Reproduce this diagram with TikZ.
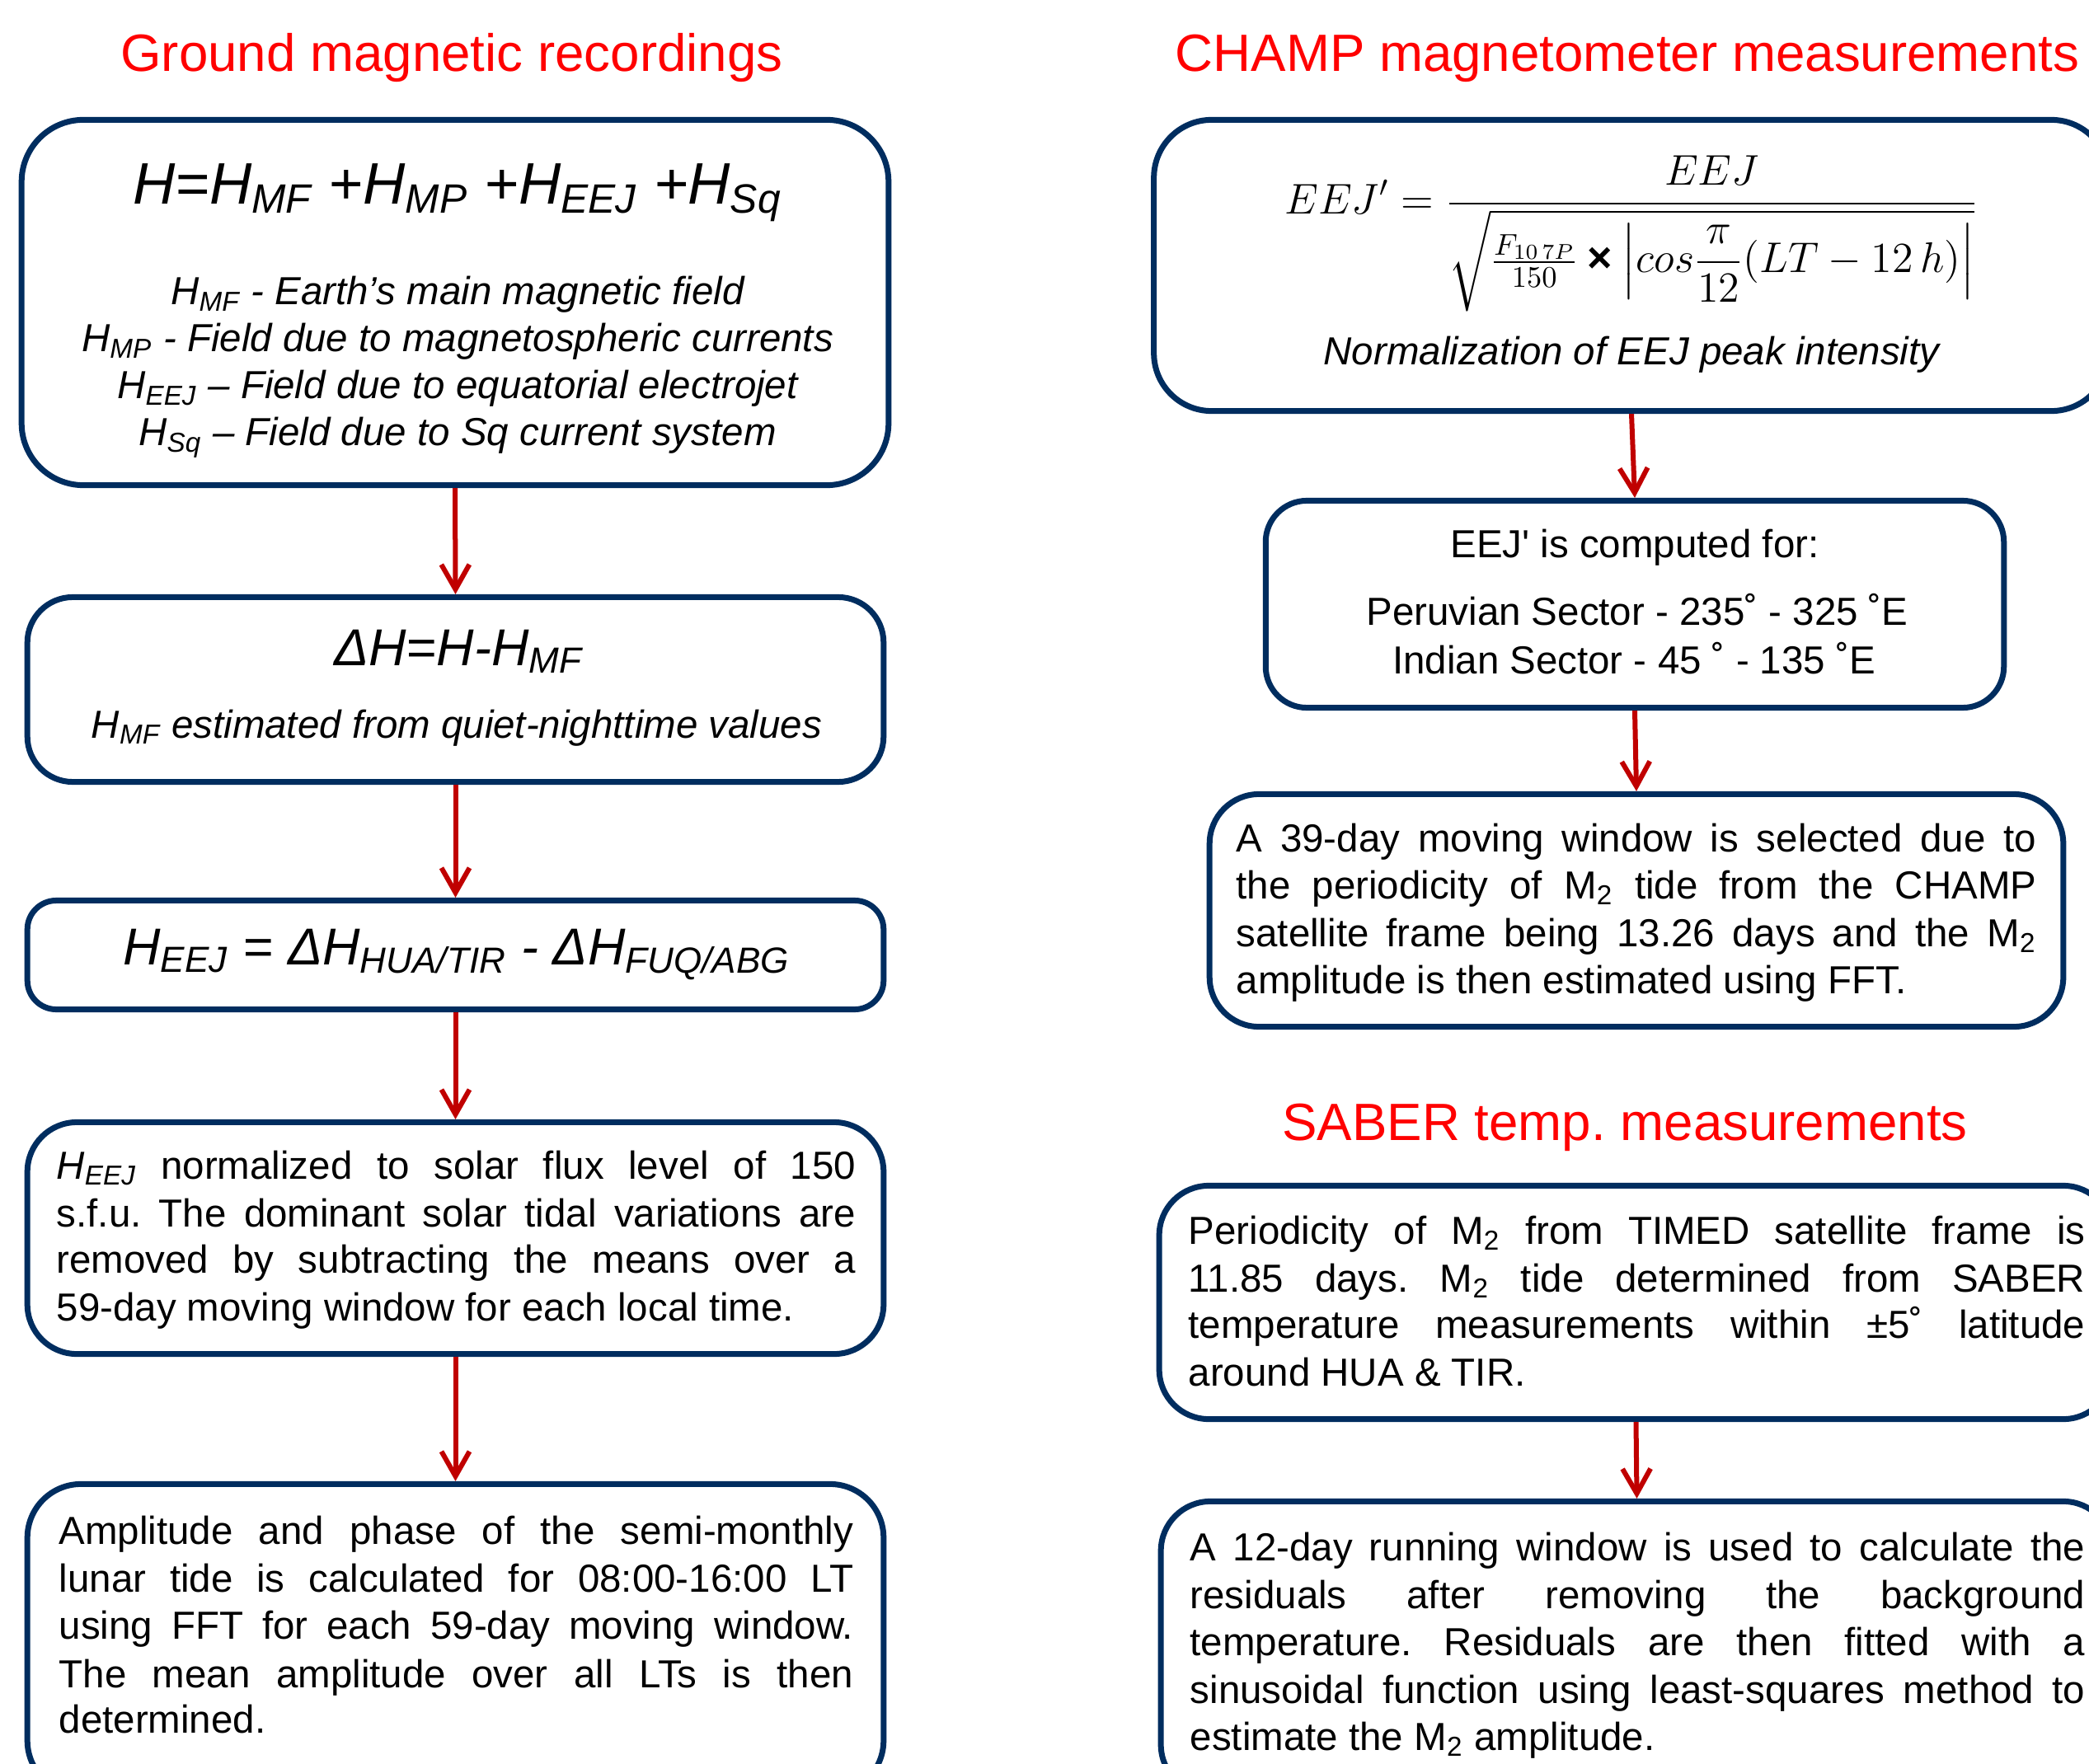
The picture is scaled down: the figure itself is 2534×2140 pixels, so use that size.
\documentclass[tikz,border=0pt]{standalone}
\usepackage{amsmath}
\usepackage{fix-cm}
\usepackage[no-math]{fontspec}
\setmainfont{Liberation Sans}
\newfontfamily\rawsans{Liberation Sans}
\usetikzlibrary{arrows.meta}
\frenchspacing
\definecolor{navy}{RGB}{0,45,95}
\definecolor{arrred}{RGB}{192,0,0}
\definecolor{ttlred}{RGB}{255,0,0}
\newcommand\ssub[1]{\textsubscript{#1}}
\newcommand\jl[2]{\makebox[#1][s]{#2}}
\newcommand\sq{{\rawsans '}}
\tikzset{
  flowbox/.style={draw=navy, line width=0.07cm, rounded corners=#1, inner sep=0pt, fill=white},
  txt/.style={inner sep=0pt, font=\fontsize{13.5}{16.4}\selectfont},
  itxt/.style={inner sep=0pt, font=\fontsize{13.5}{16.4}\selectfont\itshape},
  bigf/.style={inner sep=0pt, font=\fontsize{17.9}{21}\selectfont\itshape},
  title/.style={inner sep=0pt, text=ttlred, font=\fontsize{18.1}{21}\selectfont},
  arr/.style={draw=arrred, line width=0.06cm, -{Straight Barb[length=0.3cm,width=0.34cm]}}
}
\begin{document}
\begin{tikzpicture}[x=0.01cm, y=-0.01cm]
\useasboundingbox (0,0) rectangle (2534,2140);
\clip (0,0) rectangle (2534,2140);
\fill[white] (0,0) rectangle (2534,2140);

% titles
\node[title, anchor=base] (tl) at (548,87) {Ground magnetic recordings};
\node[title, anchor=base] (tr) at (1974,87) {CHAMP magnetometer measurements};
\node[title, anchor=base] (ts) at (1971,1383) {SABER temp. measurements};

% left boxes
\node[flowbox=0.75cm, minimum width=10.51cm, minimum height=4.43cm] (L1) at (552,367) {};
\node[flowbox=0.55cm, minimum width=10.38cm, minimum height=2.24cm] (L2) at (552.5,836.5) {};
\node[flowbox=0.35cm, minimum width=10.38cm, minimum height=1.32cm] (L3) at (552.5,1158.5) {};
\node[flowbox=0.6cm, minimum width=10.38cm, minimum height=2.81cm] (L4) at (552.5,1502) {};
\node[flowbox=0.65cm, minimum width=10.38cm, minimum height=3.76cm] (L5) at (552.5,1988.5) {};

% right boxes
\node[flowbox=0.7cm, minimum width=11.58cm, minimum height=3.53cm] (R1) at (1979,322) {};
\node[flowbox=0.5cm, minimum width=8.95cm, minimum height=2.51cm] (R2) at (1983,733) {};
\node[flowbox=0.6cm, minimum width=10.35cm, minimum height=2.82cm] (R3) at (1985,1104.5) {};
\node[flowbox=0.6cm, minimum width=11.56cm, minimum height=2.83cm] (R4) at (1984.5,1580) {};
\node[flowbox=0.6cm, minimum width=11.54cm, minimum height=3.55cm] (R5) at (1985.5,1999) {};

% arrows
\draw[arr] (L1.south) -- (L2.north);
\draw[arr] (L2.south) -- (L3.north);
\draw[arr] (L3.south) -- (L4.north);
\draw[arr] (L4.south) -- (L5.north);
\draw[arr] (R1.south) -- (R2.north);
\draw[arr] (R2.south) -- (R3.north);
\draw[arr] (R4.south) -- (R5.north);

% L1 content
\node[inner sep=0pt, anchor=base, font=\fontsize{20.2}{24}\selectfont\itshape] (f1) at (555,248)
  {H=H\ssub{MF} +H\ssub{MP} +H\ssub{EEJ} +H\ssub{Sq}};
\node[itxt, anchor=base] (l1a) at (555,370) {H\ssub{MF} - Earth’s main magnetic field};
\node[itxt, anchor=base] (l1b) at (555,427) {H\ssub{MP} - Field due to magnetospheric currents};
\node[itxt, anchor=base] (l1c) at (555,484) {H\ssub{EEJ} – Field due to equatorial electrojet};
\node[itxt, anchor=base] (l1d) at (555,541) {H\ssub{Sq} – Field due to Sq current system};

% L2 content
\node[bigf, anchor=base] (f2) at (556,807) {ΔH=H-H\ssub{MF}};
\node[itxt, anchor=base] (l2a) at (554,895) {H\ssub{MF} estimated from quiet-nighttime values};

% L3 content
\node[bigf, anchor=base] (f3) at (554,1170) {H\ssub{EEJ} = ΔH\ssub{HUA/TIR} - ΔH\ssub{FUQ/ABG}};

% L4 content
\node[txt, anchor=base west] (l4a) at (68,1430) {\jl{9.69cm}{{\itshape H\ssub{EEJ}} normalized to solar flux level of 150}};
\node[txt, anchor=base west] (l4b) at (68,1488) {\jl{9.69cm}{s.f.u. The dominant solar tidal variations are}};
\node[txt, anchor=base west] (l4c) at (68,1544) {\jl{9.69cm}{removed by subtracting the means over a}};
\node[txt, anchor=base west] (l4d) at (68,1602) {59-day moving window for each local time.};

% L5 content
\node[txt, anchor=base west] (l5a) at (71,1873) {\jl{9.63cm}{Amplitude and phase of the semi-monthly}};
\node[txt, anchor=base west] (l5b) at (71,1931) {\jl{9.63cm}{lunar tide is calculated for 08:00-16:00 LT}};
\node[txt, anchor=base west] (l5c) at (71,1988) {\jl{9.63cm}{using FFT for each 59-day moving window.}};
\node[txt, anchor=base west] (l5d) at (71,2047) {\jl{9.63cm}{The mean amplitude over all LTs is then}};
\node[txt, anchor=base west] (l5e) at (71,2102) {determined.};

% R1 content
\node[inner sep=0pt, anchor=base, font=\fontsize{14.8}{17}\selectfont] (f4) at (1979,260)
  {$\displaystyle EEJ' = \frac{EEJ}{\sqrt{\frac{F_{10\,7P}}{150}\mathbin{\text{\bfseries ×}}\left|cos\dfrac{\pi}{12}(LT-12\,h)\right|}}$};
\node[itxt, anchor=base] (r1a) at (1979,443) {Normalization of EEJ peak intensity};

% R2 content
\node[txt, anchor=base] (r2a) at (1983,676) {EEJ\sq{} is computed for:};
\node[txt, anchor=base] (r2b) at (1986,758) {Peruvian Sector - 235˚ - 325 ˚E};
\node[txt, anchor=base] (r2c) at (1982,817) {Indian Sector - 45 ˚ - 135 ˚E};

% R3 content
\node[txt, anchor=base west] (r3a) at (1499,1033) {\jl{9.70cm}{A 39-day moving window is selected due to}};
\node[txt, anchor=base west] (r3b) at (1499,1090) {\jl{9.70cm}{the periodicity of M\ssub{2} tide from the CHAMP}};
\node[txt, anchor=base west] (r3c) at (1499,1148) {\jl{9.70cm}{satellite frame being 13.26 days and the M\ssub{2}}};
\node[txt, anchor=base west] (r3d) at (1499,1205) {amplitude is then estimated using FFT.};

% R4 content
\node[txt, anchor=base west] (r4a) at (1441,1509) {\jl{10.87cm}{Periodicity of M\ssub{2} from TIMED satellite frame is}};
\node[txt, anchor=base west] (r4b) at (1441,1567) {\jl{10.87cm}{11.85 days. M\ssub{2} tide determined from SABER}};
\node[txt, anchor=base west] (r4c) at (1441,1623) {\jl{10.87cm}{temperature measurements within ±5˚ latitude}};
\node[txt, anchor=base west] (r4d) at (1441,1681) {around HUA \& TIR.};

% R5 content
\node[txt, anchor=base west] (r5a) at (1443,1893) {\jl{10.85cm}{A 12-day running window is used to calculate the}};
\node[txt, anchor=base west] (r5b) at (1443,1951) {\jl{10.85cm}{residuals after removing the background}};
\node[txt, anchor=base west] (r5c) at (1443,2008) {\jl{10.85cm}{temperature. Residuals are then fitted with a}};
\node[txt, anchor=base west] (r5d) at (1443,2066) {\jl{10.85cm}{sinusoidal function using least-squares method to}};
\node[txt, anchor=base west] (r5e) at (1443,2123) {estimate the M\ssub{2} amplitude.};
\end{tikzpicture}
\end{document}
